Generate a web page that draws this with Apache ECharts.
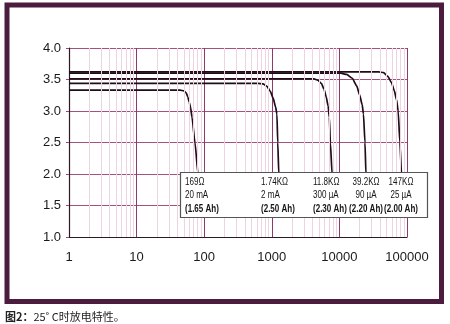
<!DOCTYPE html>
<html>
<head>
<meta charset="utf-8">
<script src="https://cdn.jsdelivr.net/npm/echarts@6/dist/echarts.min.js"></script>
<style>
html,body{margin:0;padding:0;background:#fff;}
#chart{width:450px;height:324px;}
</style>
</head>
<body>
<div id="chart"></div>
<script>
// X tick labels (hours, log scale) and Y tick labels (volts)
const xTicks = [1, 10, 100, 1000, 10000, 100000];
const yTicks = [1.0, 1.5, 2.0, 2.5, 3.0, 3.5, 4.0];

// Discharge curves: [hours, volts]
const curve169 = [[1,3.33],[44,3.33],[50,3.32],[54,3.29],[57,3.23],[60,3.14],[63,3.05],[66,2.9],[73,2.5],[81,2.0],[84,1.9]];
const curve1k74 = [[1,3.44],[620,3.44],[740,3.43],[850,3.39],[950,3.31],[1050,3.2],[1140,3.06],[1190,2.95],[1225,2.5],[1270,2.0],[1290,1.9]];
const curve11k8 = [[1,3.51],[4200,3.51],[4800,3.49],[5400,3.44],[5900,3.35],[6400,3.22],[6800,3.08],[7100,2.9],[7350,2.5],[7800,2.0],[7900,1.9]];
const curve39k2 = [[1,3.60],[10500,3.60],[12800,3.58],[15500,3.52],[18000,3.4],[20000,3.25],[21700,3.1],[22700,2.95],[23900,2.5],[24700,2.0],[25000,1.9]];
const curve147k = [[1,3.62],[38000,3.62],[45000,3.61],[52000,3.55],[59000,3.45],[65000,3.32],[70000,3.18],[74000,3.0],[78500,2.5],[83000,2.0],[84000,1.9]];

// Legend box texts
const loads = ['169Ω', '1.74KΩ', '11.8KΩ', '39.2KΩ', '147KΩ'];
const currents = ['20 mA', '2 mA', '300 µA', '90 µA', '25 µA'];
const capacities = ['(1.65 Ah)', '(2.50 Ah)', '(2.30 Ah)', '(2.20 Ah)', '(2.00 Ah)'];

// Minor log grid values (2..9 per decade)
const minorGrid = [];
for (let d = 1; d < 100000; d *= 10) {
  for (let m = 2; m <= 9; m++) minorGrid.push(m * d);
}

const curves = [curve169, curve1k74, curve11k8, curve39k2, curve147k];

const chart = echarts.init(document.getElementById('chart'), null, {renderer: 'canvas'});

const series = [{
  type: 'line',
  data: [],
  z: 1,
  silent: true,
  markLine: {
    silent: true,
    symbol: 'none',
    label: {show: false},
    lineStyle: {color: '#eed3e0', width: 1, type: 'solid'},
    data: minorGrid.map(v => ({xAxis: v}))
  }
}];
curves.forEach(c => {
  series.push({
    type: 'line',
    data: c,
    z: 3,
    showSymbol: false,
    smooth: 0.2,
    smoothMonotone: 'x',
    lineStyle: {color: '#1e0c19', width: 1.7}
  });
});

// Legend box graphic
const colX = [185, 261, 313, 366, 401];
const colAlign = ['left', 'left', 'left', 'center', 'center'];
const rowY = [182, 195, 209];
const boxTexts = [];
[loads, currents, capacities].forEach((arr, r) => {
  arr.forEach((t, i) => {
    boxTexts.push({
      type: 'text', z: 101,
      x: colX[i], y: rowY[r],
      scaleX: 0.73,
      style: {
        text: t,
        fill: '#141414',
        font: (r === 2 ? 'bold ' : '') + '11px Arial, "Liberation Sans", sans-serif',
        textAlign: colAlign[i],
        textVerticalAlign: 'middle'
      }
    });
  });
});

chart.setOption({
  animation: false,
  backgroundColor: '#fff',
  grid: {left: 69, right: 43, top: 48, bottom: 87},
  xAxis: {
    type: 'log',
    logBase: 10,
    min: xTicks[0],
    max: xTicks[xTicks.length - 1],
    axisLine: {show: true, onZero: false, lineStyle: {color: '#2a1a24', width: 1.2}},
    axisTick: {show: false},
    axisLabel: {
      color: '#1a1a1a', fontSize: 13, margin: 14,
      fontFamily: 'Arial, "Liberation Sans", sans-serif',
      formatter: v => String(Math.round(v))
    },
    splitLine: {show: true, lineStyle: {color: '#8e3b6c', width: 1}}
  },
  yAxis: {
    type: 'value',
    min: yTicks[0],
    max: yTicks[yTicks.length - 1],
    interval: 0.5,
    axisLine: {show: true, lineStyle: {color: '#2a1a24', width: 1.2}},
    axisTick: {show: true, length: 3, lineStyle: {color: '#9c4a7b'}},
    axisLabel: {
      color: '#1a1a1a', fontSize: 13, margin: 8,
      fontFamily: 'Arial, "Liberation Sans", sans-serif',
      formatter: v => v.toFixed(1)
    },
    splitLine: {show: true, lineStyle: {color: '#a3527f', width: 1}}
  },
  series: series,
  graphic: [
    {
      type: 'rect', z: 0, silent: true,
      shape: {x: 7, y: 5, width: 434.5, height: 296.5},
      style: {fill: 'none', stroke: '#4b1c3d', lineWidth: 5}
    },
    {
      type: 'rect', z: 100, silent: true,
      shape: {x: 180.5, y: 172.5, width: 247, height: 45},
      style: {fill: '#fff', stroke: '#555', lineWidth: 1.2}
    },
    ...boxTexts,
    {
      type: 'text', z: 100, x: 5, y: 317,
      style: {
        text: '{b|图2：}25˚ C时放电特性。',
        textVerticalAlign: 'middle',
        rich: {
          b: {fontWeight: 'bold', fontSize: 11, fill: '#222', fontFamily: '"Noto Sans CJK SC", sans-serif'}
        },
        font: '11px "Noto Sans CJK SC", sans-serif',
        fill: '#222'
      }
    }
  ]
});
</script>
</body>
</html>
